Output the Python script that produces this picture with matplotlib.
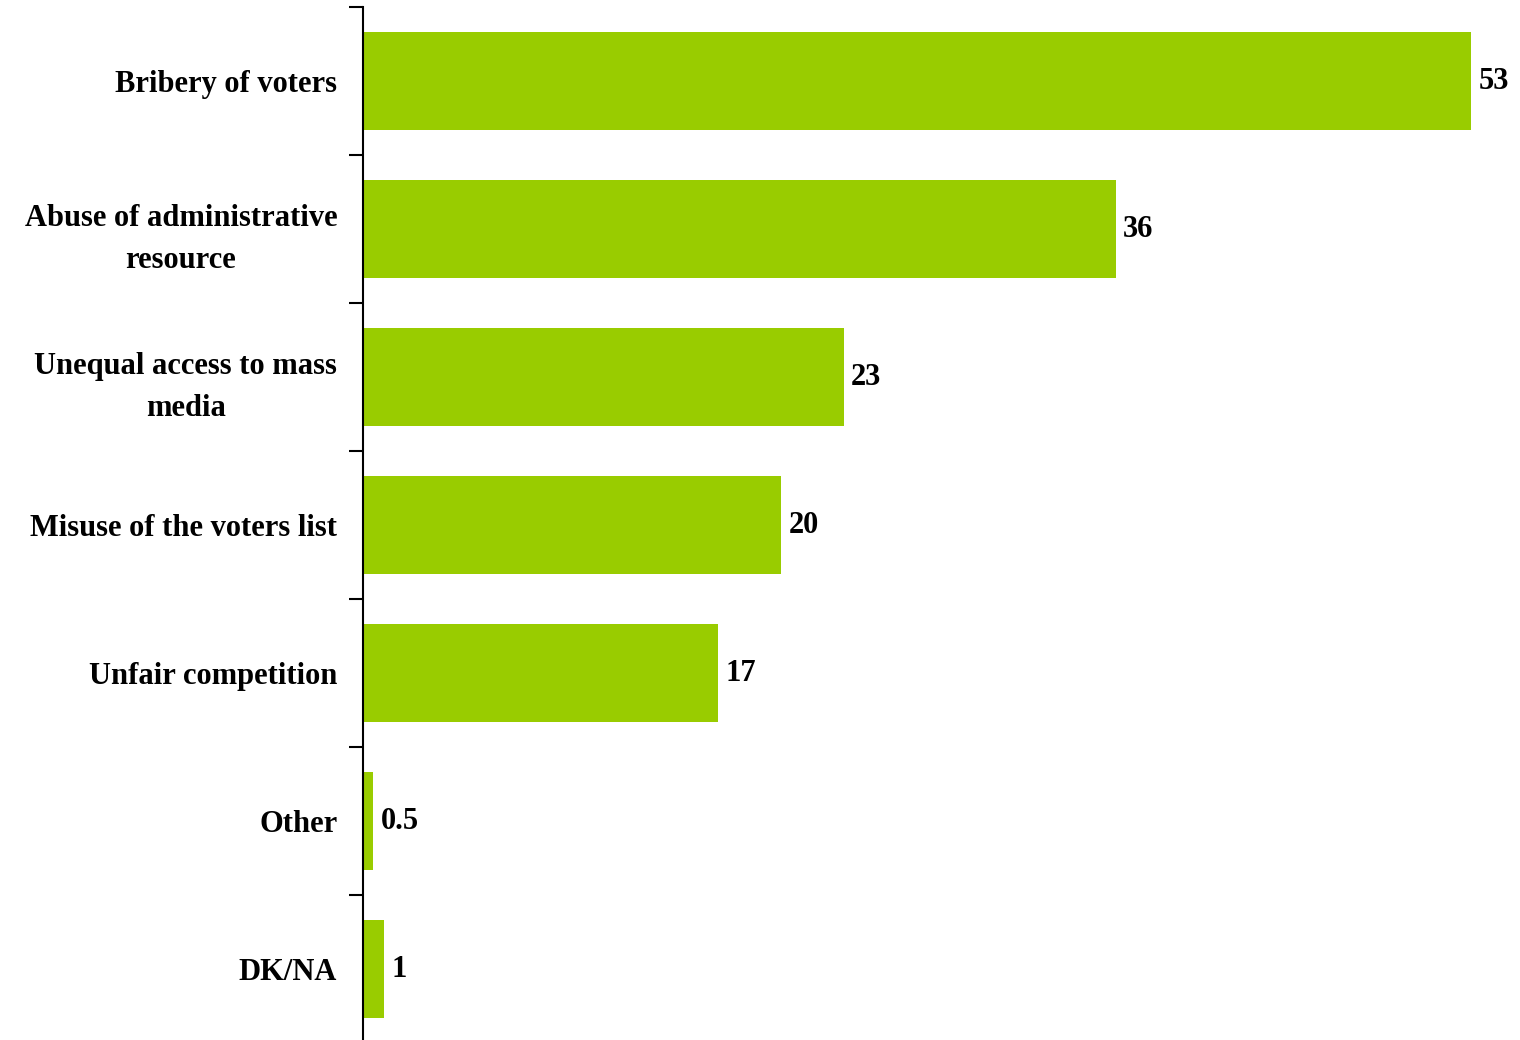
import matplotlib
matplotlib.use("Agg")
import matplotlib.pyplot as plt
import numpy as np

categories = ["Bribery of voters", "Abuse of administrative\nresource",
              "Unequal access to mass\nmedia", "Misuse of the voters list",
              "Unfair competition", "Other", "DK/NA"]
values = [53, 36, 23, 20, 17, 0.5, 1]
value_labels = ["53", "36", "23", "20", "17", "0.5", "1"]

fig = plt.figure(figsize=(15.2, 10.4), dpi=100)
ax = fig.add_axes([363/1520, -3/1040, 1 - 363/1520, 1036/1040])

y = np.arange(len(categories))
ax.barh(y, values, height=0.66, color="#99CC00")
ax.set_ylim(len(categories) - 0.5, -0.5)
ax.set_xlim(0, 55.34)

font = dict(family="Liberation Serif", weight="bold", size=22)
for yi, v, lab in zip(y, values, value_labels):
    ax.text(v + 0.35, yi, lab, va="center", ha="left", **font)

ax.set_yticks(y)
ax.set_yticklabels(categories, ha="right", multialignment="center",
                   linespacing=1.6, **font)
ax.tick_params(axis="y", which="major", length=0, pad=18.5)
ax.set_yticks(np.arange(-0.5, len(categories) + 0.5, 1), minor=True)
ax.tick_params(axis="y", which="minor", length=10, width=1.5, direction="out")
ax.xaxis.set_visible(False)
for s in ["top", "right", "bottom"]:
    ax.spines[s].set_visible(False)
ax.spines["left"].set_linewidth(1.5)

fig.savefig("out.png", dpi=100)
